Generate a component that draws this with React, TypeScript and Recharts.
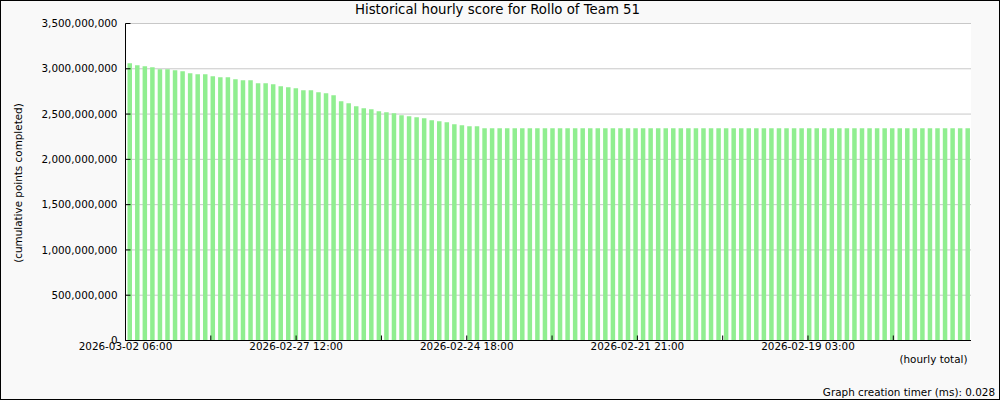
import React from "react";
import { BarChart, Bar, XAxis, YAxis, CartesianGrid } from "recharts";

const chartTitle = "Historical hourly score for Rollo of Team 51";
const yAxisTitle = "(cumulative points completed)";
const xAxisTitle = "(hourly total)";
const footerText = "Graph creation timer (ms): 0.028";

// cumulative score per bar (newest first)
const scores: number[] = [
  3061e6, 3039e6, 3028e6, 3017e6, 2995e6, 2995e6, 2984e6, 2973e6, 2951e6, 2940e6,
  2940e6, 2918e6, 2907e6, 2907e6, 2884e6, 2873e6, 2873e6, 2840e6, 2840e6, 2829e6,
  2807e6, 2796e6, 2785e6, 2763e6, 2763e6, 2741e6, 2730e6, 2708e6, 2641e6, 2619e6,
  2586e6, 2564e6, 2553e6, 2531e6, 2520e6, 2509e6, 2487e6, 2476e6, 2464e6, 2453e6,
  2431e6, 2420e6, 2409e6, 2387e6, 2376e6, 2365e6, 2365e6, 2343e6, 2343e6, 2343e6,
  2343e6, 2343e6, 2343e6, 2343e6, 2343e6, 2343e6, 2343e6, 2343e6, 2343e6, 2343e6,
  2343e6, 2343e6, 2343e6, 2343e6, 2343e6, 2343e6, 2343e6, 2343e6, 2343e6, 2343e6,
  2343e6, 2343e6, 2343e6, 2343e6, 2343e6, 2343e6, 2343e6, 2343e6, 2343e6, 2343e6,
  2343e6, 2343e6, 2343e6, 2343e6, 2343e6, 2343e6, 2343e6, 2343e6, 2343e6, 2343e6,
  2343e6, 2343e6, 2343e6, 2343e6, 2343e6, 2343e6, 2343e6, 2343e6, 2343e6, 2343e6,
  2343e6, 2343e6, 2343e6, 2343e6, 2343e6, 2343e6, 2343e6, 2343e6, 2343e6, 2343e6,
  2343e6, 2343e6,
];

// x tick labels at each tenth of the time span (every other one labelled)
const xTickLabels: string[] = [
  "2026-03-02 06:00", "",
  "2026-02-27 12:00", "",
  "2026-02-24 18:00", "",
  "2026-02-21 21:00", "",
  "2026-02-19 03:00", "",
];

const yTicks: number[] = [0, 500e6, 1000e6, 1500e6, 2000e6, 2500e6, 3000e6, 3500e6];

const rows = scores.map((score) => ({ score }));
const slotCount = scores.length;
const xTicks = xTickLabels.map((_, i) => (i * slotCount) / xTickLabels.length);

const FONT = "'DejaVu Sans', sans-serif";
const FS = 10.4;

export default function App() {
  return (
    <div style={{ position: "absolute", left: 0, top: 0, width: 1000, height: 400, background: "#f9f9f9" }}>
      <div style={{ position: "absolute", left: 0, top: 0 }}>
        <BarChart
          width={1000}
          height={400}
          data={rows}
          margin={{ top: 23.5, right: 29, bottom: 30, left: 0 }}
          barCategoryGap="20%"
        >
          <CartesianGrid xAxisId="cat" vertical={false} stroke="#c8c8c8" fill="#ffffff" />
          <XAxis xAxisId="cat" type="category" hide height={0} />
          <XAxis
            xAxisId="num"
            type="number"
            domain={[0, slotCount]}
            allowDataOverflow
            ticks={xTicks}
            interval={0}
            tickFormatter={(_v: number, i: number) => xTickLabels[i] ?? ""}
            height={29.5}
            tickSize={-5}
            tickMargin={7}
            axisLine={{ stroke: "#000" }}
            tickLine={{ stroke: "#000" }}
            tick={{ fill: "#000", fontSize: FS, fontFamily: FONT }}
          />
          <YAxis
            type="number"
            domain={[0, 3500e6]}
            ticks={yTicks}
            interval={0}
            width={125.5}
            tickSize={-5}
            tickMargin={13}
            tickFormatter={(v: number) => v.toLocaleString("en-US")}
            axisLine={{ stroke: "#000" }}
            tickLine={{ stroke: "#000" }}
            tick={{ fill: "#000", fontSize: FS, fontFamily: FONT }}
          />
          <Bar xAxisId="cat" dataKey="score" fill="#90ee90" barSize={4.5} isAnimationActive={false} />
        </BarChart>
      </div>
      <svg
        width={1000}
        height={400}
        style={{ position: "absolute", left: 0, top: 0, pointerEvents: "none" }}
        fontFamily={FONT}
      >
        <text x={497.5} y={14} textAnchor="middle" fontSize={13.3} fill="#000">
          {chartTitle}
        </text>
        <text
          x={21.5}
          y={183}
          textAnchor="middle"
          fontSize={FS}
          fill="#000"
          transform="rotate(-90 21.5 183)"
        >
          {yAxisTitle}
        </text>
        <text x={967.5} y={362.5} textAnchor="end" fontSize={FS} fill="#000">
          {xAxisTitle}
        </text>
        <text x={995} y={395.5} textAnchor="end" fontSize={FS} fill="#000">
          {footerText}
        </text>
      </svg>
      <div
        style={{
          position: "absolute",
          left: 0,
          top: 0,
          width: 1000,
          height: 400,
          boxSizing: "border-box",
          border: "1px solid #000",
          pointerEvents: "none",
        }}
      />
    </div>
  );
}
